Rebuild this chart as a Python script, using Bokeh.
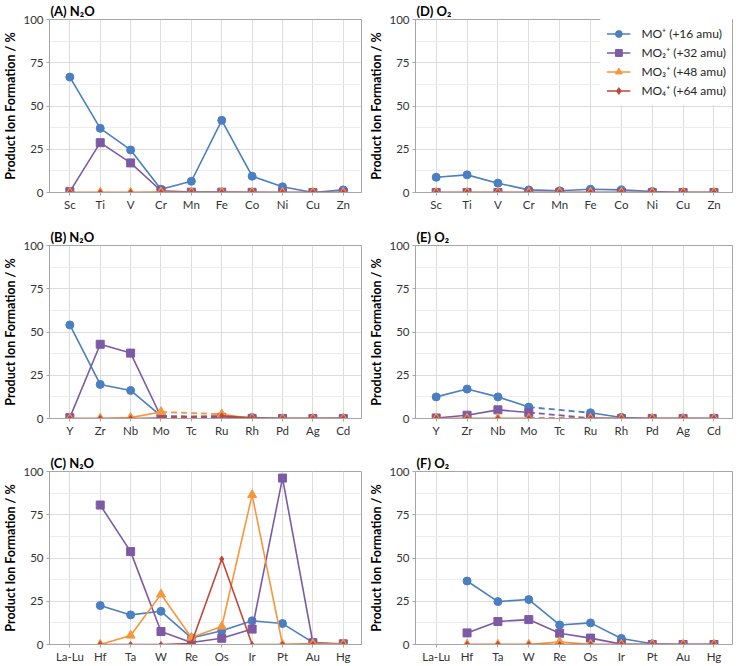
import math
from bokeh.plotting import figure
from bokeh.layouts import row, column
from bokeh.models import FixedTicker, Legend, LegendItem, Range1d
from bokeh.embed import file_html
from bokeh.resources import INLINE

NaN = float("nan")

# ---------------- categories ----------------
period4 = ["Sc", "Ti", "V", "Cr", "Mn", "Fe", "Co", "Ni", "Cu", "Zn"]
period5 = ["Y", "Zr", "Nb", "Mo", "Tc", "Ru", "Rh", "Pd", "Ag", "Cd"]
period6 = ["La-Lu", "Hf", "Ta", "W", "Re", "Os", "Ir", "Pt", "Au", "Hg"]

series_labels = ["MO\u207a (+16 amu)", "MO\u2082\u207a (+32 amu)",
                 "MO\u2083\u207a (+48 amu)", "MO\u2084\u207a (+64 amu)"]

# ---------------- (A) N2O, period 4 ----------------
a_mo  = [66.7, 37.1, 24.6, 1.9, 6.5, 41.7, 9.4, 3.3, 0.0, 1.5]
a_mo2 = [0.5, 28.8, 17.1, 1.0, 0.2, 0.2, 0.1, 0.0, 0.0, 0.0]
a_mo3 = [0.0, 0.0, 0.0, 0.3, 0.0, 0.0, 0.0, 0.0, 0.0, 0.0]
a_mo4 = [0.0, 0.0, 0.0, 0.0, 0.0, 0.0, 0.0, 0.0, 0.0, 0.0]

# ---------------- (B) N2O, period 5 ----------------
b_mo  = [54.1, 19.7, 16.2, 1.5, NaN, 1.0, 0.6, 0.0, 0.0, 0.3]
b_mo2 = [0.5, 42.9, 37.8, 1.0, NaN, 0.7, 0.0, 0.0, 0.0, 0.0]
b_mo3 = [0.0, 0.0, 0.5, 3.8, NaN, 2.5, 0.0, 0.0, 0.0, 0.0]
b_mo4 = [0.0, 0.0, 0.0, 0.3, NaN, 1.5, 0.2, 0.0, 0.0, 0.0]

# ---------------- (C) N2O, period 6 ----------------
c_mo  = [NaN, 22.5, 17.1, 19.2, 3.8, 7.9, 13.7, 12.1, 1.2, 0.0]
c_mo2 = [NaN, 80.6, 53.7, 7.5, 1.2, 3.6, 8.9, 96.2, 1.0, 0.4]
c_mo3 = [NaN, 0.0, 5.2, 29.0, 4.0, 10.4, 86.5, 0.0, 0.5, 0.3]
c_mo4 = [NaN, 0.0, 0.0, 0.0, 0.6, 49.4, 0.0, 0.0, 0.0, 0.0]

# ---------------- (D) O2, period 4 ----------------
d_mo  = [8.8, 10.2, 5.4, 1.5, 1.0, 1.9, 1.5, 0.6, 0.0, 0.0]
d_mo2 = [0.0, 0.0, 0.0, 0.0, 0.0, 0.0, 0.0, 0.0, 0.0, 0.0]
d_mo3 = [0.0, 0.0, 0.0, 0.0, 0.0, 0.0, 0.0, 0.0, 0.0, 0.0]
d_mo4 = [0.0, 0.0, 0.0, 0.0, 0.0, 0.0, 0.0, 0.0, 0.0, 0.0]

# ---------------- (E) O2, period 5 ----------------
e_mo  = [12.5, 17.0, 12.5, 6.6, NaN, 3.3, 0.6, 0.0, 0.0, 0.0]
e_mo2 = [0.3, 1.9, 5.0, 3.5, NaN, 0.2, 0.0, 0.0, 0.0, 0.0]
e_mo3 = [0.0, 0.0, 0.0, 0.0, NaN, 0.0, 0.0, 0.0, 0.0, 0.0]
e_mo4 = [0.0, 0.0, 0.0, 0.0, NaN, 0.0, 0.0, 0.0, 0.0, 0.0]

# ---------------- (F) O2, period 6 ----------------
f_mo  = [NaN, 36.7, 24.8, 26.0, 11.3, 12.5, 3.5, 0.4, 0.0, 0.0]
f_mo2 = [NaN, 6.7, 13.3, 14.4, 6.5, 3.7, 0.2, 0.0, 0.0, 0.0]
f_mo3 = [NaN, 0.0, 0.0, 0.0, 1.5, 0.0, 0.0, 0.0, 0.0, 0.0]
f_mo4 = [NaN, 0.0, 0.0, 0.0, 0.0, 0.0, 0.0, 0.0, 0.0, 0.0]

y_ticks = [0, 25, 50, 75, 100]
y_minor = [12.5, 37.5, 62.5, 87.5]

# ---------------- styling ----------------
COLORS = ["#4a7fc1", "#7d5aa6", "#f7963c", "#c0473a"]
MARKERS = ["circle", "square", "triangle", "diamond"]
SIZES = [8, 8, 9, 6]
FONT = "Lato"
FRAME_GRAY = "#a6a6a6"


def make_panel(title, cats, data, frame_w, left_border, right_border,
               bottom_border, legend=False):
    xs = list(range(len(cats)))
    p = figure(frame_width=frame_w, frame_height=173, output_backend="svg",
               toolbar_location=None, tools="",
               x_range=Range1d(-0.67, len(cats) - 1 + 0.6),
               y_range=Range1d(0, 100),
               min_border_left=left_border, min_border_right=right_border,
               min_border_top=12, min_border_bottom=bottom_border)
    p.title.text = title
    p.title.text_font = FONT
    p.title.text_font_size = "13px"
    p.title.text_font_style = "bold"
    p.title.text_color = "#000000"
    p.title.standoff = 1
    p.title.offset = 1

    p.xaxis.ticker = FixedTicker(ticks=xs)
    p.xaxis.major_label_overrides = {i: c for i, c in enumerate(cats)}
    p.yaxis.ticker = FixedTicker(ticks=y_ticks, minor_ticks=y_minor)
    p.yaxis.axis_label = "Product Ion Formation / %"

    for ax in (p.xaxis[0], p.yaxis[0]):
        ax.axis_line_color = FRAME_GRAY
        ax.major_tick_line_color = FRAME_GRAY
        ax.major_tick_out = 3
        ax.major_tick_in = 0
        ax.minor_tick_line_color = None
        ax.major_label_text_font = FONT
        ax.major_label_text_font_size = "11.5px"
        ax.major_label_text_color = "#333333"
        ax.major_label_standoff = 2
    p.yaxis.axis_label_text_font = FONT
    p.yaxis.axis_label_text_font_size = "12.5px"
    p.yaxis.axis_label_text_font_style = "bold"
    p.yaxis.axis_label_text_color = "#000000"
    p.yaxis.axis_label_standoff = 2

    p.outline_line_color = FRAME_GRAY
    p.xgrid.grid_line_color = "#dcdcdc"
    p.ygrid.grid_line_color = "#dcdcdc"
    p.ygrid.minor_grid_line_color = "#ededed"

    items = []
    for k, vals in enumerate(data):
        col = COLORS[k]
        ln = p.line(xs, vals, line_color=col, line_width=1.6)
        # dashed bridge across missing elements
        for i in range(len(vals)):
            if math.isnan(vals[i]):
                continue
            j = i + 1
            while j < len(vals) and math.isnan(vals[j]):
                j += 1
            if j < len(vals) and j - i > 1:
                p.line([xs[i], xs[j]], [vals[i], vals[j]], line_color=col,
                       line_width=1.8, line_dash="6 4")
        sc = p.scatter(xs, vals, marker=MARKERS[k], size=SIZES[k],
                       fill_color=col, line_color=col)
        items.append(LegendItem(label=series_labels[k], renderers=[ln, sc]))

    if legend:
        lg = Legend(items=items, location="top_right",
                    border_line_alpha=0, background_fill_color="white",
                    background_fill_alpha=1.0,
                    label_text_font=FONT, label_text_font_size="12px",
                    label_text_color="#262626",
                    glyph_width=24, glyph_height=17, label_height=17,
                    label_standoff=11, spacing=2, padding=6, margin=0)
        p.add_layout(lg)
    return p


pa = make_panel("(A) N\u2082O", period4, [a_mo, a_mo2, a_mo3, a_mo4], 312, 34, 5, 34)
pb = make_panel("(B) N\u2082O", period5, [b_mo, b_mo2, b_mo3, b_mo4], 312, 34, 5, 34)
pc = make_panel("(C) N\u2082O", period6, [c_mo, c_mo2, c_mo3, c_mo4], 312, 34, 5, 20)
pd = make_panel("(D) O\u2082", period4, [d_mo, d_mo2, d_mo3, d_mo4], 317, 48, 1, 34, legend=True)
pe = make_panel("(E) O\u2082", period5, [e_mo, e_mo2, e_mo3, e_mo4], 317, 48, 1, 34)
pf = make_panel("(F) O\u2082", period6, [f_mo, f_mo2, f_mo3, f_mo4], 317, 48, 1, 20)

layout = row(column(pa, pb, pc), column(pd, pe, pf))

open("out.html", "w").write(file_html(layout, INLINE))
